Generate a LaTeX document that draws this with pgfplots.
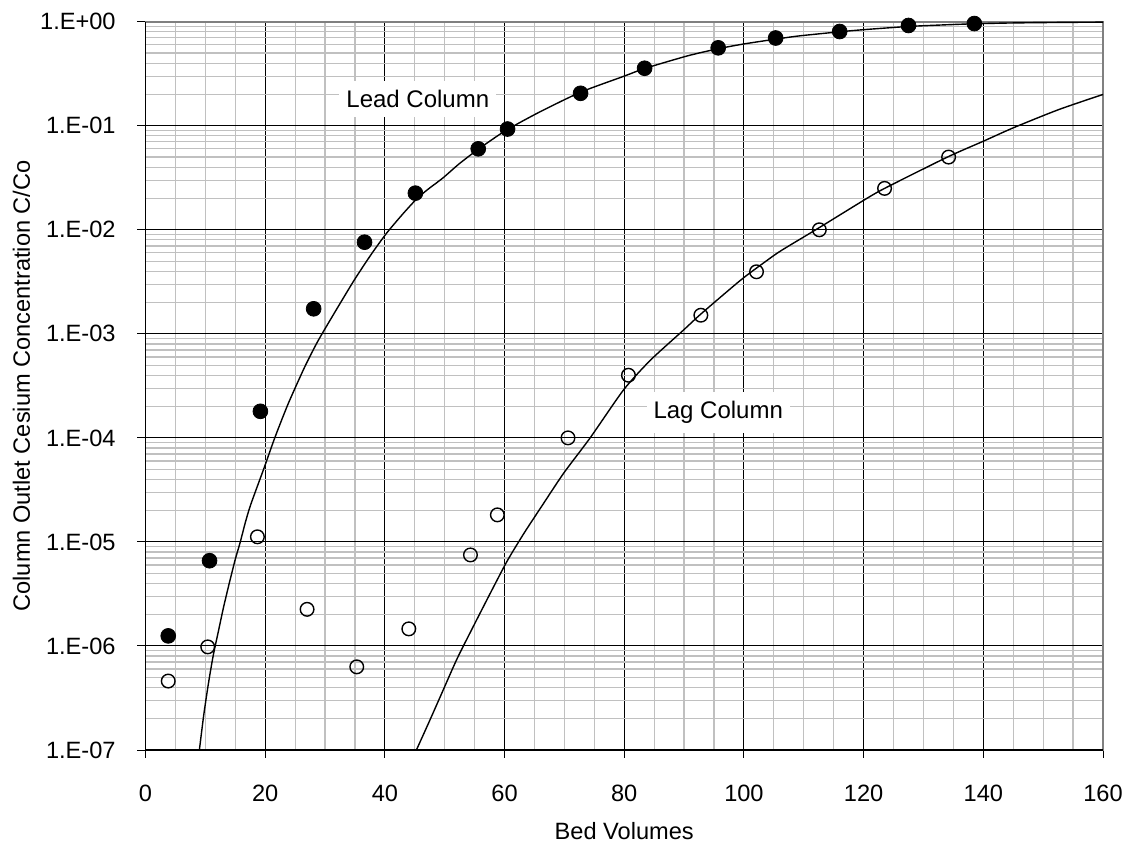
\documentclass[border=0pt]{standalone}
\usepackage{fontspec}
\setmainfont{Liberation Sans}
\usepackage{pgfplots}
\usepackage{pgfplotstable}
\pgfplotsset{compat=1.18}
\definecolor{minorgrid}{RGB}{192,192,192}
\definecolor{framegray}{RGB}{128,128,128}

\pgfplotstableread{
x y
3.8 1.25e-6
10.7 6.6e-6
19.2 1.8e-4
28.1 1.74e-3
36.6 7.6e-3
45.1 2.25e-2
55.6 6.0e-2
60.5 9.3e-2
72.7 0.205
83.4 0.357
95.7 0.561
105.3 0.697
116.0 0.805
127.5 0.92
138.5 0.96
}\leaddata

\pgfplotstableread{
x y
3.8 4.6e-7
10.4 9.8e-7
18.7 1.12e-5
27.0 2.25e-6
35.3 6.3e-7
44.0 1.46e-6
54.3 7.5e-6
58.8 1.82e-5
70.6 1.0e-4
80.7 4.0e-4
92.8 1.51e-3
102.1 3.95e-3
112.6 1.0e-2
123.5 2.5e-2
134.2 5.0e-2
}\lagdata

\pgfplotstableread{
x y
8.8 0.8e-7
9.7 2.1e-7
10.5 4.3e-7
11.3 8.0e-7
12.2 1.4e-6
13.0 2.3e-6
13.9 3.8e-6
15.0 6.8e-6
15.8 9.8e-6
16.7 1.55e-5
17.6 2.3e-5
19.9 5.3e-5
21.6 1.0e-4
23.8 2.1e-4
26.6 4.8e-4
28.8 8.5e-4
31.6 1.6e-3
34.9 3.3e-3
37.8 5.9e-3
40.3 9.3e-3
43.0 1.42e-2
45.2 1.95e-2
47.0 2.4e-2
49.7 3.15e-2
52.4 4.3e-2
55.7 6.0e-2
60.2 9.0e-2
65.8 0.135
72.7 0.21
80.0 0.30
83.4 0.355
90.6 0.47
95.7 0.55
99.9 0.61
105.3 0.68
109.2 0.73
116.0 0.80
120.2 0.84
127.5 0.90
134.0 0.935
138.5 0.955
144.5 0.972
152.6 0.984
160 0.99
}\leadcurve

\pgfplotstableread{
x y
44.5 0.8e-7
47.0 1.66e-7
49.2 3.2e-7
52.0 7.4e-7
54.8 1.55e-6
57.6 3.2e-6
60.4 6.5e-6
63.2 1.2e-5
66.2 2.2e-5
69.9 4.6e-5
74.3 1.0e-4
79.9 2.9e-4
84.4 5.6e-4
90.0 1.1e-3
92.8 1.55e-3
99.5 3.3e-3
103.7 5.0e-3
106.2 6.3e-3
112.6 1.05e-2
120.2 1.95e-2
123.5 2.5e-2
134.0 5.0e-2
140.0 7.1e-2
145.1 9.6e-2
152.6 0.143
160 0.2
}\lagcurve

\begin{document}
\begin{tikzpicture}
\path[use as bounding box] (-72.75pt,-48pt) rectangle (492.25pt,375pt);
\begin{axis}[
  name=ax, at={(0,0)}, anchor=south west,
  scale only axis, width=478.75pt, height=364.15pt,
  xmin=0, xmax=160, ymode=log, ymin=1e-7, ymax=1,
  xtick={0,20,40,60,80,100,120,140,160},
  minor xtick={5,10,15,25,30,35,45,50,55,65,70,75,85,90,95,105,110,115,125,130,135,145,150,155},
  ytick={1e-7,1e-6,1e-5,1e-4,1e-3,1e-2,1e-1,1},
  yticklabels={1.E-07,1.E-06,1.E-05,1.E-04,1.E-03,1.E-02,1.E-01,1.E+00},
  minor ytick={2e-7,3e-7,4e-7,5e-7,6e-7,7e-7,8e-7,9e-7,
               2e-6,3e-6,4e-6,5e-6,6e-6,7e-6,8e-6,9e-6,
               2e-5,3e-5,4e-5,5e-5,6e-5,7e-5,8e-5,9e-5,
               2e-4,3e-4,4e-4,5e-4,6e-4,7e-4,8e-4,9e-4,
               2e-3,3e-3,4e-3,5e-3,6e-3,7e-3,8e-3,9e-3,
               2e-2,3e-2,4e-2,5e-2,6e-2,7e-2,8e-2,9e-2,
               0.2,0.3,0.4,0.5,0.6,0.7,0.8,0.9},
  grid=both,
  major grid style={black, line width=0.5pt},
  minor grid style={minorgrid, line width=0.6pt},
  axis line style={framegray, line width=0.9pt},
  tick pos=left, tick align=outside,
  major tick length=4pt, minor tick length=0pt,
  tick style={black, line width=0.5pt},
  /pgf/number format/assume math mode=true,
  tick label style={font=\fontsize{11.8}{14}\selectfont},
  xticklabel style={anchor=north, inner sep=0pt, yshift=-13.5pt},
  yticklabel style={anchor=east, inner sep=0pt, xshift=-10.75pt},
  xlabel={Bed Volumes},
  ylabel={Column Outlet Cesium Concentration C/Co},
  xlabel style={at={(axis description cs:0.5,0)}, anchor=north, inner sep=0pt, yshift=-36pt, font=\fontsize{11.8}{14}\selectfont},
  ylabel style={at={(axis description cs:0,0.5)}, anchor=base, inner sep=0pt, yshift=57.75pt, font=\fontsize{11.8}{14}\selectfont},
]
\addplot[black, line width=0.7pt, no marks, smooth, tension=0.4] table[x=x, y=y] {\leadcurve};
\addplot[black, line width=0.7pt, no marks, smooth, tension=0.4] table[x=x, y=y] {\lagcurve};
\addplot[only marks, mark=*, mark size=3.7pt, black] table[x=x, y=y] {\leaddata};
\addplot[only marks, mark=o, mark size=3.4pt, black, mark options={line width=0.7pt}] table[x=x, y=y] {\lagdata};
\node[fill=white, inner xsep=3.5pt, inner ysep=4.5pt, font=\fontsize{12}{14}\selectfont] at (axis cs:45.5,0.18) {Lead Column};
\node[fill=white, inner xsep=3.5pt, inner ysep=4.5pt, font=\fontsize{12}{14}\selectfont] at (axis cs:95.7,1.75e-4) {Lag Column};
\end{axis}
\draw[black, line width=0.9pt] (ax.north west) -- (ax.south west) -- (ax.south east);
\end{tikzpicture}
\end{document}
